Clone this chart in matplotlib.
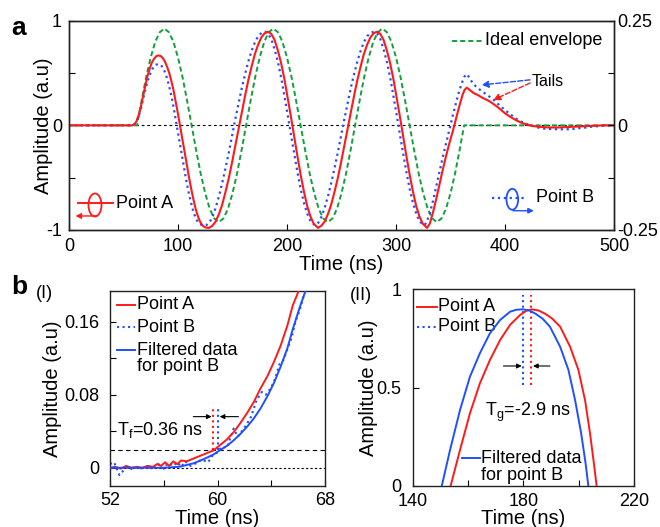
import matplotlib.pyplot as plt
import matplotlib.patches as mpatches

plt.rcParams['font.family'] = ['Liberation Sans', 'DejaVu Sans']
plt.rcParams['mathtext.fontset'] = 'custom'
plt.rcParams['mathtext.rm'] = 'Liberation Sans'
plt.rcParams['mathtext.it'] = 'Liberation Sans'
plt.rcParams['axes.unicode_minus'] = False

RED = '#ff1a1a'
BLUE = '#1f4fff'
GREEN = '#12a03c'

# ---- panel a: whole pulse (Point A, Point B, ideal envelope) ----
t_a = [0, 58, 60, 62, 64, 66, 68, 70, 72, 74, 76, 78, 80, 82, 84, 86, 88, 90, 92, 94, 96, 98,
       100, 102, 104, 106, 108, 110, 112, 114, 116, 118, 120, 122, 124, 126, 128.5,
       131.5, 134.5, 137.5, 140.5, 143.5, 146.5, 149.5, 152.5, 155.5, 158.5, 161.5, 164.5,
       167.5, 170.5, 173.5, 176.5, 179.5, 182.5, 185.5, 188.5, 191.5, 194.5, 197.5, 200.5,
       203.5, 206.5, 209.5, 212.5, 215.5, 218.5, 221.5, 224.5, 228.5,
       231.5, 234.5, 237.5, 240.5, 243.5, 246.5, 249.5, 252.5, 255.5, 258.5, 261.5, 264.5,
       267.5, 270.5, 273.5, 276.5, 279.5, 282.5, 285.5, 288.5, 291.5, 294.5, 297.5, 300.5,
       303.5, 306.5, 309.5, 312.5, 315.5, 318.5, 321.5, 324.5, 328.5,
       331, 334, 337, 340, 343, 346, 349, 352, 355, 358, 361, 363, 365, 368, 371, 375, 380,
       385, 390, 395, 400, 405, 410, 415, 420, 425, 430, 440, 450, 460, 470, 480, 490, 500]
amp_a = [0, 0, 0.01, 0.04, 0.10, 0.18, 0.28, 0.38, 0.47, 0.54, 0.60, 0.635, 0.66, 0.668, 0.663,
         0.645, 0.61, 0.56, 0.50, 0.42, 0.33, 0.22, 0.11, -0.01, -0.13, -0.25, -0.37, -0.49,
         -0.60, -0.70, -0.79, -0.86, -0.915, -0.95, -0.97, -0.978, -0.98,
         -0.96, -0.92, -0.85, -0.76, -0.64, -0.51, -0.36, -0.20, -0.04, 0.12, 0.28, 0.43,
         0.56, 0.68, 0.77, 0.84, 0.88, 0.895, 0.875, 0.82, 0.72, 0.60, 0.45, 0.27,
         0.09, -0.10, -0.29, -0.47, -0.63, -0.77, -0.87, -0.94, -0.98,
         -0.96, -0.92, -0.85, -0.76, -0.64, -0.51, -0.36, -0.20, -0.04, 0.12, 0.28, 0.43,
         0.56, 0.68, 0.77, 0.84, 0.88, 0.895, 0.875, 0.82, 0.72, 0.60, 0.45, 0.27,
         0.09, -0.10, -0.29, -0.47, -0.63, -0.77, -0.87, -0.94, -0.98,
         -0.94, -0.83, -0.70, -0.56, -0.42, -0.29, -0.17, -0.06, 0.06, 0.18, 0.29, 0.34, 0.36,
         0.335, 0.31, 0.29, 0.26, 0.235, 0.20, 0.16, 0.115, 0.08, 0.05, 0.025, 0.008, -0.005,
         -0.013, -0.02, -0.02, -0.015, -0.01, -0.005, 0, 0]

t_b = [0, 58, 60, 62, 64, 66, 68, 70, 72, 74, 76, 78, 80, 82, 84, 86, 88, 90, 92, 94, 96, 98,
       100, 102, 104, 106, 108, 110, 112, 114, 116, 118, 120, 123, 125.8,
       128.8, 131.8, 134.8, 137.8, 140.8, 143.8, 146.8, 149.8, 152.8, 155.8, 158.8, 161.8,
       164.8, 167.8, 170.8, 173.8, 176.8, 179.8, 182.8, 185.8, 188.8, 191.8, 194.8, 197.8,
       200.8, 203.8, 206.8, 209.8, 212.8, 215.8, 218.8, 221.8, 225.8,
       228.8, 231.8, 234.8, 237.8, 240.8, 243.8, 246.8, 249.8, 252.8, 255.8, 258.8, 261.8,
       264.8, 267.8, 270.8, 273.8, 276.8, 279.8, 282.8, 285.8, 288.8, 291.8, 294.8, 297.8,
       300.8, 303.8, 306.8, 309.8, 312.8, 315.8, 318.8, 321.8, 325.8,
       328, 331, 334, 337, 340, 343, 346, 349, 352, 355, 358, 361, 363, 365, 367, 370, 373,
       377, 381, 385, 390, 395, 400, 405, 410, 415, 420, 425, 430, 435, 440, 445, 450, 455,
       460, 465, 470, 475, 480, 490, 500]
amp_b = [0, 0, 0.01, 0.04, 0.09, 0.16, 0.25, 0.34, 0.42, 0.48, 0.53, 0.565, 0.58, 0.586, 0.58,
         0.555, 0.51, 0.45, 0.37, 0.28, 0.17, 0.05, -0.07, -0.19, -0.31, -0.43, -0.55, -0.65,
         -0.74, -0.82, -0.88, -0.92, -0.945, -0.955, -0.955,
         -0.93, -0.87, -0.78, -0.67, -0.54, -0.40, -0.25, -0.09, 0.07, 0.22, 0.37, 0.50,
         0.62, 0.72, 0.80, 0.855, 0.885, 0.895, 0.875, 0.82, 0.72, 0.60, 0.45, 0.27,
         0.09, -0.10, -0.28, -0.46, -0.62, -0.75, -0.85, -0.92, -0.955,
         -0.93, -0.87, -0.78, -0.67, -0.54, -0.40, -0.25, -0.09, 0.07, 0.22, 0.37, 0.50,
         0.62, 0.72, 0.80, 0.855, 0.885, 0.895, 0.875, 0.82, 0.72, 0.60, 0.45, 0.27,
         0.09, -0.10, -0.28, -0.46, -0.62, -0.75, -0.85, -0.92, -0.955,
         -0.93, -0.84, -0.72, -0.58, -0.44, -0.30, -0.17, -0.04, 0.09, 0.21, 0.33, 0.42, 0.47,
         0.49, 0.46, 0.41, 0.375, 0.34, 0.31, 0.28, 0.24, 0.19, 0.145, 0.105, 0.065, 0.035,
         0.012, -0.005, -0.02, -0.03, -0.035, -0.035, -0.04, -0.035, -0.04, -0.03, -0.025,
         -0.02, -0.012, -0.005, 0]

t_ideal = [0, 62.5, 66.7, 70.8, 75.0, 79.2, 83.3, 87.5, 91.7, 95.8, 100.0, 104.2, 108.3,
           112.5, 116.7, 120.8, 125.0, 129.2, 133.3, 137.5, 141.7, 145.8, 150.0, 154.2, 158.3,
           162.5, 166.7, 170.8, 175.0, 179.2, 183.3, 187.5, 191.7, 195.8, 200.0, 204.2, 208.3,
           212.5, 216.7, 220.8, 225.0, 229.2, 233.3, 237.5, 241.7, 245.8, 250.0, 254.2, 258.3,
           262.5, 266.7, 270.8, 275.0, 279.2, 283.3, 287.5, 291.7, 295.8, 300.0, 304.2, 308.3,
           312.5, 316.7, 320.8, 325.0, 329.2, 333.3, 337.5, 341.7, 345.8, 350.0, 354.2, 358.3,
           362.5, 500]
amp_ideal = [0,
             0, 0.24, 0.46, 0.65, 0.80, 0.89, 0.925, 0.89, 0.80, 0.65, 0.46, 0.24,
             0, -0.24, -0.46, -0.65, -0.80, -0.89, -0.925, -0.89, -0.80, -0.65, -0.46, -0.24,
             0, 0.24, 0.46, 0.65, 0.80, 0.89, 0.925, 0.89, 0.80, 0.65, 0.46, 0.24,
             0, -0.24, -0.46, -0.65, -0.80, -0.89, -0.925, -0.89, -0.80, -0.65, -0.46, -0.24,
             0, 0.24, 0.46, 0.65, 0.80, 0.89, 0.925, 0.89, 0.80, 0.65, 0.46, 0.24,
             0, -0.24, -0.46, -0.65, -0.80, -0.89, -0.925, -0.89, -0.80, -0.65, -0.46, -0.24,
             0, 0]

# ---- panel b(I): front edge ----
t_front_a = [52, 52.4, 52.8, 53.2, 53.6, 54, 54.4, 54.8, 55.2, 55.5, 55.8, 56.1, 56.4, 56.7,
             57.0, 57.3, 57.7, 58.2, 58.7, 59.2, 59.7, 60.2, 60.7, 61.2, 61.7, 62.2, 62.7,
             63.2, 63.7, 64.2, 64.7, 65.2, 65.6, 66.1, 66.5]
amp_front_a = [0.0, 0.001, -0.001, 0.002, 0.0, 0.001, 0.0, 0.002, 0.001, 0.004, 0.002, 0.006,
               0.002, 0.007, 0.004, 0.008, 0.007, 0.010, 0.013, 0.016, 0.019, 0.025, 0.031,
               0.039, 0.049, 0.060, 0.072, 0.087, 0.100, 0.116, 0.134, 0.156, 0.178, 0.196, 0.215]

t_front_b = [52, 52.3, 52.7, 53.0, 53.3, 53.7, 54.0, 54.4, 54.8, 55.2, 55.6, 56.0, 56.3, 56.7,
             57.0, 57.3, 57.6, 58.0, 58.4, 58.8, 59.3, 59.6, 60.0, 60.3, 60.7, 61.2, 61.5,
             61.8, 62.1, 62.5, 62.9, 63.3, 63.6, 63.9, 64.2, 64.6, 64.9, 65.2, 65.5, 65.8,
             66.1, 66.4, 66.7, 67.0]
amp_front_b = [0.004, 0.006, -0.008, -0.003, 0.001, -0.002, 0.001, -0.001, 0.002, -0.002,
               0.004, -0.001, 0.005, 0.002, 0.006, 0.001, 0.007, 0.002, 0.005, 0.009, 0.006,
               0.013, 0.017, 0.023, 0.022, 0.043, 0.034, 0.040, 0.046, 0.056, 0.074, 0.083,
               0.080, 0.086, 0.094, 0.113, 0.118, 0.130, 0.142, 0.160, 0.172, 0.188, 0.200, 0.215]

t_front_f = [52, 56, 56.6, 57.2, 57.7, 58.2, 58.7, 59.2, 59.7, 60.2, 60.7, 61.2, 61.7, 62.2,
             62.7, 63.2, 63.7, 64.2, 64.7, 65.2, 65.6, 66.1, 66.6, 67.0]
amp_front_f = [0, 0, 0.0005, 0.0012, 0.003, 0.0048, 0.0077, 0.011, 0.0145, 0.0195, 0.024, 0.030,
               0.037, 0.045, 0.054, 0.065, 0.078, 0.093, 0.111, 0.131, 0.152, 0.175, 0.196, 0.215]

threshold = 0.0194
tf_a, tf_b = 59.68, 60.04

# ---- panel b(II): second peak ----
t_peak_a = [150, 153.7, 157.1, 160.7, 164.3, 167.9, 171.6, 175.2, 178.8, 181, 183.0, 185.5,
            188, 190.5, 193.3, 196.9, 199.9, 202.3, 204.1, 205.5, 206.5, 208]
amp_peak_a = [-0.2, 0.0, 0.183, 0.37, 0.522, 0.64, 0.742, 0.819, 0.869, 0.89, 0.898, 0.892,
              0.875, 0.85, 0.81, 0.708, 0.59, 0.437, 0.268, 0.115, 0.0, -0.17]
t_peak_f = [147, 150.5, 153.5, 157.1, 160.7, 164.3, 167.9, 171.6, 175.2, 177.5, 179.8, 182.2,
            184.5, 187, 189.6, 193.3, 196.3, 198.7, 200.9, 202.5, 203.5, 205]
amp_peak_f = [-0.19, 0.0, 0.183, 0.386, 0.556, 0.675, 0.776, 0.844, 0.886, 0.896, 0.898, 0.892,
              0.875, 0.85, 0.81, 0.708, 0.59, 0.437, 0.268, 0.115, 0.0, -0.17]
tg_b, tg_a = 180.0, 182.9


def style_axes(ax):
    for s in ax.spines.values():
        s.set_linewidth(1.0)
        s.set_color('#222222')
    ax.tick_params(direction='in', length=4, labelsize=13, top=False, right=False)


fig = plt.figure(figsize=(6.6, 5.27), dpi=100)
fig.patch.set_facecolor('white')

# panel a
ax = fig.add_axes([0.1045, 0.5636, 0.8258, 0.3971])
ax.axhline(0, color='k', lw=0.8, dashes=(2.5, 2.5), zorder=1)
ax.plot(t_ideal, amp_ideal, color=GREEN, lw=1.4, dashes=(2.6, 1.6), zorder=2)
ax.plot(t_b, amp_b, color=BLUE, lw=1.6, ls=':', zorder=3)
ax.plot(t_a, amp_a, color=RED, lw=1.5, zorder=4)
ax.set_xlim(0, 500)
ax.set_ylim(-1, 1)
ax.set_xticks([0, 100, 200, 300, 400, 500])
ax.set_yticks([-1, -0.5, 0, 0.5, 1])
ax.set_yticklabels(['-1', '', '0', '', '1'])
style_axes(ax)
ax.tick_params(axis='x', pad=6)
ax.tick_params(axis='y', pad=5)
ax.set_xlabel('Time (ns)', fontsize=14.5, labelpad=0)
ax.set_ylabel('Amplitude (a.u)', fontsize=14.5)
ax.yaxis.set_label_coords(-0.03, 0.5)

ax2 = ax.twinx()
ax2.set_ylim(-0.25, 0.25)
ax2.set_yticks([-0.25, -0.125, 0, 0.125, 0.25])
ax2.set_yticklabels(['-0.25', '', '0', '', '0.25'])
ax2.tick_params(direction='in', length=4, labelsize=13, pad=2)
for s in ax2.spines.values():
    s.set_linewidth(1.0)
    s.set_color('#222222')

# ideal envelope legend
ax.plot([0.702, 0.757], [0.904, 0.904], transform=ax.transAxes, color=GREEN, lw=1.4,
        dashes=(2.6, 1.6))
ax.text(0.763, 0.904, 'Ideal envelope', transform=ax.transAxes, fontsize=13, va='center')

# Point A marker (left axis)
ax.plot([0.016, 0.0813], [0.1266, 0.1266], transform=ax.transAxes, color=RED, lw=1.4)
ax.add_patch(mpatches.Ellipse((0.0477, 0.1194), 0.0239, 0.11, transform=ax.transAxes,
                              fill=False, edgecolor=RED, lw=1.3))
ax.annotate('', xy=(0.012, 0.067), xytext=(0.0508, 0.067), xycoords='axes fraction',
            arrowprops=dict(arrowstyle='-|>', color=RED, lw=1.0, mutation_scale=8,
                            shrinkA=0, shrinkB=0))
ax.text(0.0862, 0.1266, 'Point A', transform=ax.transAxes, fontsize=13, va='center')

# Point B marker (right axis)
ax.plot([0.7756, 0.8398], [0.1543, 0.1543], transform=ax.transAxes, color=BLUE, lw=1.6, ls=':')
ax.add_patch(mpatches.Ellipse((0.8134, 0.1467), 0.0215, 0.10, transform=ax.transAxes,
                              fill=False, edgecolor=BLUE, lw=1.3))
ax.annotate('', xy=(0.853, 0.092), xytext=(0.8147, 0.092), xycoords='axes fraction',
            arrowprops=dict(arrowstyle='-|>', color=BLUE, lw=1.0, mutation_scale=8,
                            shrinkA=0, shrinkB=0))
ax.text(0.8563, 0.1543, 'Point B', transform=ax.transAxes, fontsize=13, va='center')

# tails annotation
ax.text(424, 0.42, 'Tails', fontsize=11.5, va='center', ha='left')
ax.annotate('', xy=(378.6, 0.386), xytext=(423, 0.435),
            arrowprops=dict(arrowstyle='-|>', color=BLUE, lw=1.0, ls='--', mutation_scale=10,
                            shrinkA=0, shrinkB=0))
ax.annotate('', xy=(389.3, 0.243), xytext=(423, 0.405),
            arrowprops=dict(arrowstyle='-|>', color=RED, lw=1.0, ls='--', mutation_scale=10,
                            shrinkA=0, shrinkB=0))

# panel b(I)
bx1 = fig.add_axes([0.1667, 0.0778, 0.3258, 0.3706])
bx1.axhline(0, color='k', lw=0.8, dashes=(2, 2), zorder=1)
bx1.axhline(threshold, color='k', lw=0.8, dashes=(4, 3), zorder=1)
bx1.plot(t_front_b, amp_front_b, color=BLUE, lw=1.5, ls=':', zorder=2)
bx1.plot(t_front_a, amp_front_a, color=RED, lw=1.4, zorder=3)
bx1.plot(t_front_f, amp_front_f, color=BLUE, lw=1.4, zorder=4)
bx1.plot([tf_a, tf_a], [threshold, 0.065], color=RED, lw=1.5, ls=':')
bx1.plot([tf_b, tf_b], [threshold, 0.065], color=BLUE, lw=1.5, ls=':')
bx1.annotate('', xy=(tf_a - 0.12, 0.056), xytext=(58.2, 0.056),
             arrowprops=dict(arrowstyle='-|>', color='k', lw=0.8, mutation_scale=7,
                             shrinkA=0, shrinkB=0))
bx1.annotate('', xy=(tf_b + 0.12, 0.056), xytext=(61.55, 0.056),
             arrowprops=dict(arrowstyle='-|>', color='k', lw=0.8, mutation_scale=7,
                             shrinkA=0, shrinkB=0))
bx1.text(52.5, 0.0413, r'T$_\mathregular{f}$=0.36 ns', fontsize=13, va='center', ha='left')
bx1.set_xlim(52, 68)
bx1.set_ylim(-0.02, 0.194)
bx1.set_xticks([52, 56, 60, 64, 68])
bx1.set_xticklabels(['52', '', '60', '', '68'])
bx1.set_yticks([0, 0.04, 0.08, 0.12, 0.16])
bx1.set_yticklabels(['0', '', '0.08', '', '0.16'])
style_axes(bx1)
bx1.tick_params(axis='x', pad=4)
bx1.tick_params(axis='y', pad=8)
bx1.set_xlabel('Time (ns)', fontsize=14.5, labelpad=0)
bx1.set_ylabel('Amplitude (a.u)', fontsize=14.5)
bx1.yaxis.set_label_coords(-0.223, 0.5)

rows = [0.927, 0.812, 0.696, 0.610]
bx1.plot([0.031, 0.116], [rows[0]] * 2, transform=bx1.transAxes, color=RED, lw=1.4)
bx1.plot([0.031, 0.116], [rows[1]] * 2, transform=bx1.transAxes, color=BLUE, lw=1.5, ls=':')
bx1.plot([0.031, 0.116], [rows[2]] * 2, transform=bx1.transAxes, color=BLUE, lw=1.4)
bx1.text(0.127, rows[0], 'Point A', transform=bx1.transAxes, fontsize=13, va='center')
bx1.text(0.127, rows[1], 'Point B', transform=bx1.transAxes, fontsize=13, va='center')
bx1.text(0.127, rows[2], 'Filtered data', transform=bx1.transAxes, fontsize=13, va='center')
bx1.text(0.127, rows[3], 'for point B', transform=bx1.transAxes, fontsize=13, va='center')

# panel b(II)
bx2 = fig.add_axes([0.6253, 0.0778, 0.3353, 0.3733])
bx2.plot(t_peak_a, amp_peak_a, color=RED, lw=1.4, zorder=3)
bx2.plot(t_peak_f, amp_peak_f, color=BLUE, lw=1.4, zorder=4)
bx2.plot([tg_b, tg_b], [0.513, 0.971], color=BLUE, lw=1.5, ls=':')
bx2.plot([tg_a, tg_a], [0.513, 0.971], color=RED, lw=1.5, ls=':')
bx2.annotate('', xy=(tg_b - 0.6, 0.61), xytext=(172.8, 0.61),
             arrowprops=dict(arrowstyle='-|>', color='k', lw=0.8, mutation_scale=7,
                             shrinkA=0, shrinkB=0))
bx2.annotate('', xy=(tg_a + 0.6, 0.61), xytext=(189.6, 0.61),
             arrowprops=dict(arrowstyle='-|>', color='k', lw=0.8, mutation_scale=7,
                             shrinkA=0, shrinkB=0))
bx2.text(166.1, 0.374, r'T$_\mathregular{g}$=-2.9 ns', fontsize=13, va='center', ha='left')
bx2.set_xlim(140, 220)
bx2.set_ylim(0, 1)
bx2.set_xticks([140, 160, 180, 200, 220])
bx2.set_xticklabels(['140', '', '180', '', '220'])
bx2.set_yticks([0, 0.5, 1])
bx2.set_yticklabels(['0', '0.5', '1'])
style_axes(bx2)
bx2.tick_params(axis='x', pad=5)
bx2.tick_params(axis='y', pad=8)
bx2.set_xlabel('Time (ns)', fontsize=14.5, labelpad=-1)
bx2.set_ylabel('Amplitude (a.u)', fontsize=14.5)
bx2.yaxis.set_label_coords(-0.158, 0.5)

bx2.plot([0.018, 0.108], [0.9115] * 2, transform=bx2.transAxes, color=RED, lw=1.4)
bx2.plot([0.018, 0.108], [0.81] * 2, transform=bx2.transAxes, color=BLUE, lw=1.5, ls=':')
bx2.text(0.116, 0.9115, 'Point A', transform=bx2.transAxes, fontsize=13, va='center')
bx2.text(0.116, 0.81, 'Point B', transform=bx2.transAxes, fontsize=13, va='center')
bx2.plot([0.221, 0.304], [0.141] * 2, transform=bx2.transAxes, color=BLUE, lw=1.4)
bx2.text(0.309, 0.141, 'Filtered data', transform=bx2.transAxes, fontsize=13, va='center')
bx2.text(0.309, 0.052, 'for point B', transform=bx2.transAxes, fontsize=13, va='center')

# panel letters
fig.text(19 / 660, 1 - 28 / 527, 'a', fontsize=19, fontweight='bold', ha='center', va='center')
fig.text(19 / 660, 1 - 287 / 527, 'b', fontsize=19, fontweight='bold', ha='center', va='center')
fig.text(44.5 / 660, 1 - 294 / 527, '(I)', fontsize=13, ha='center', va='center')
fig.text(361 / 660, 1 - 296 / 527, '(II)', fontsize=13, ha='center', va='center')

fig.savefig('out.png', dpi=100, facecolor='white')
